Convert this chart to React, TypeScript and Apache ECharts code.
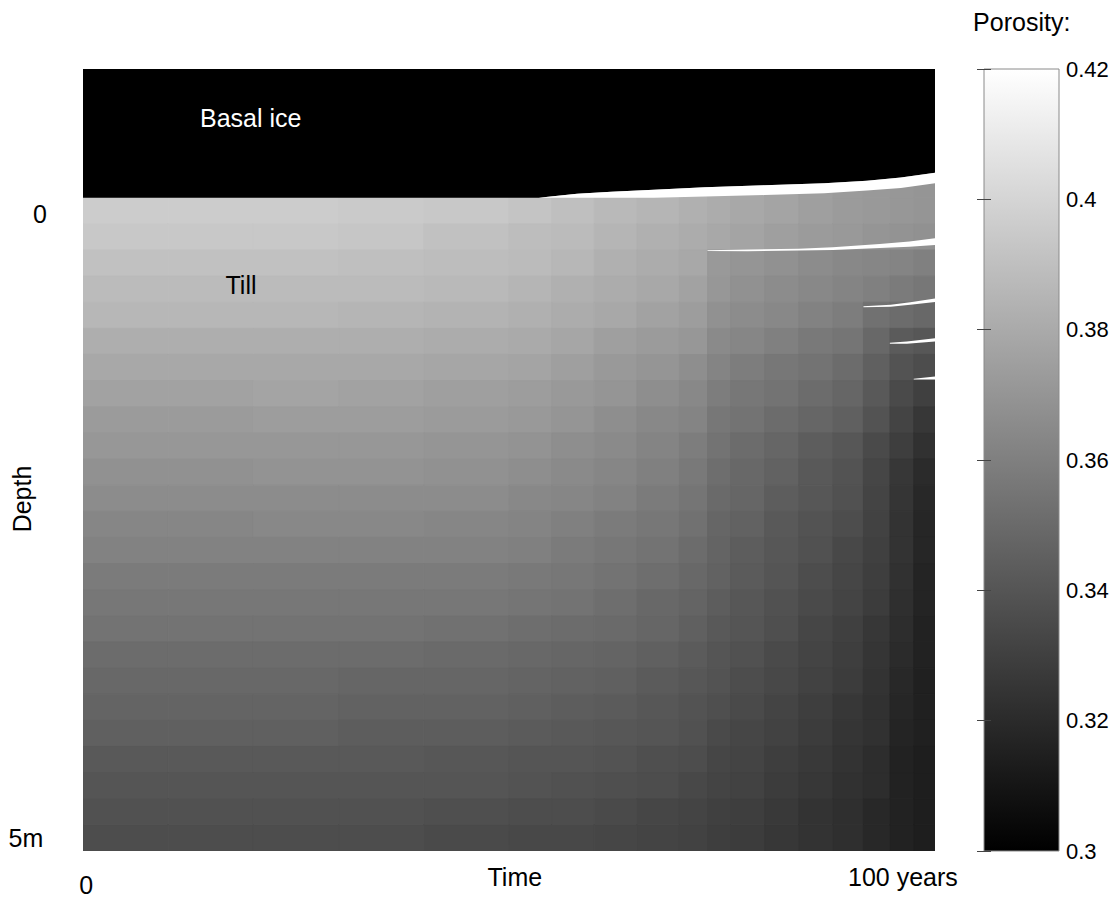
import React, { useEffect, useRef } from "react";
import * as echarts from "echarts";

// ---- axis ranges ----
const timeRange = [0, 100]; // years
const depthRange = [-0.985, 5]; // m (negative = basal ice above till surface)
const colorbarRange = [0.3, 0.42];
const colorbarStep = 0.02;

// ---- porosity field: cell edges (time, depth) and values ----
const timeEdges = [0, 10, 20, 30, 40, 50, 55, 60, 65, 70, 73.3, 76, 80, 84, 88, 91.6, 94.7, 97.5, 100];
const depthEdges = [
  -0.2, 0, 0.2, 0.4, 0.6, 0.8, 1.0, 1.2, 1.4, 1.6, 1.8, 2.0, 2.2, 2.4, 2.6, 2.8, 3.0, 3.2, 3.4,
  3.6, 3.8, 4.0, 4.2, 4.4, 4.6, 4.8, 5.0,
];
const porosity = [
  [0.396, 0.396, 0.396, 0.395, 0.394, 0.392, 0.39, 0.387, 0.385, 0.383, 0.381, 0.379, 0.377, 0.375, 0.373, 0.372, 0.371, 0.37],
  [0.396, 0.396, 0.396, 0.395, 0.394, 0.392, 0.39, 0.387, 0.385, 0.383, 0.381, 0.379, 0.377, 0.375, 0.373, 0.372, 0.371, 0.37],
  [0.394, 0.394, 0.394, 0.393, 0.391, 0.389, 0.388, 0.385, 0.383, 0.381, 0.379, 0.377, 0.375, 0.373, 0.372, 0.37, 0.369, 0.368],
  [0.391, 0.391, 0.391, 0.39, 0.389, 0.388, 0.386, 0.383, 0.381, 0.379, 0.372, 0.37, 0.368, 0.366, 0.364, 0.363, 0.362, 0.36],
  [0.388, 0.388, 0.388, 0.388, 0.387, 0.385, 0.383, 0.381, 0.379, 0.376, 0.371, 0.368, 0.366, 0.364, 0.362, 0.36, 0.358, 0.356],
  [0.386, 0.386, 0.386, 0.385, 0.384, 0.383, 0.381, 0.379, 0.376, 0.374, 0.368, 0.366, 0.364, 0.361, 0.359, 0.353, 0.351, 0.349],
  [0.382, 0.382, 0.382, 0.382, 0.381, 0.38, 0.378, 0.375, 0.373, 0.371, 0.365, 0.363, 0.36, 0.357, 0.355, 0.349, 0.343, 0.341],
  [0.379, 0.379, 0.379, 0.379, 0.378, 0.377, 0.375, 0.372, 0.37, 0.367, 0.362, 0.359, 0.356, 0.354, 0.351, 0.345, 0.339, 0.336],
  [0.376, 0.376, 0.377, 0.376, 0.375, 0.374, 0.372, 0.37, 0.367, 0.364, 0.359, 0.356, 0.354, 0.351, 0.348, 0.342, 0.335, 0.33],
  [0.373, 0.373, 0.374, 0.374, 0.373, 0.372, 0.37, 0.367, 0.364, 0.362, 0.356, 0.354, 0.351, 0.348, 0.345, 0.339, 0.332, 0.326],
  [0.371, 0.371, 0.371, 0.371, 0.37, 0.369, 0.367, 0.365, 0.362, 0.359, 0.354, 0.351, 0.348, 0.344, 0.341, 0.335, 0.329, 0.323],
  [0.368, 0.368, 0.369, 0.369, 0.368, 0.367, 0.365, 0.363, 0.36, 0.357, 0.352, 0.349, 0.346, 0.342, 0.339, 0.333, 0.326, 0.32],
  [0.366, 0.366, 0.366, 0.366, 0.366, 0.364, 0.363, 0.361, 0.358, 0.355, 0.35, 0.348, 0.344, 0.341, 0.338, 0.332, 0.325, 0.319],
  [0.363, 0.363, 0.364, 0.364, 0.363, 0.362, 0.36, 0.358, 0.356, 0.353, 0.348, 0.346, 0.342, 0.339, 0.336, 0.331, 0.324, 0.318],
  [0.361, 0.361, 0.361, 0.361, 0.361, 0.36, 0.358, 0.356, 0.354, 0.351, 0.347, 0.344, 0.341, 0.338, 0.334, 0.33, 0.324, 0.318],
  [0.358, 0.358, 0.358, 0.358, 0.358, 0.357, 0.356, 0.354, 0.352, 0.349, 0.346, 0.343, 0.34, 0.336, 0.333, 0.329, 0.323, 0.317],
  [0.356, 0.356, 0.356, 0.356, 0.356, 0.355, 0.354, 0.352, 0.349, 0.347, 0.344, 0.341, 0.338, 0.335, 0.332, 0.328, 0.322, 0.317],
  [0.354, 0.354, 0.354, 0.354, 0.353, 0.352, 0.351, 0.35, 0.348, 0.345, 0.342, 0.34, 0.337, 0.333, 0.33, 0.326, 0.321, 0.316],
  [0.351, 0.351, 0.351, 0.351, 0.35, 0.349, 0.348, 0.347, 0.345, 0.343, 0.34, 0.338, 0.335, 0.332, 0.329, 0.325, 0.32, 0.316],
  [0.349, 0.349, 0.349, 0.348, 0.348, 0.347, 0.346, 0.345, 0.343, 0.341, 0.339, 0.336, 0.334, 0.331, 0.328, 0.324, 0.319, 0.315],
  [0.347, 0.347, 0.347, 0.346, 0.346, 0.345, 0.344, 0.343, 0.341, 0.339, 0.337, 0.335, 0.332, 0.329, 0.326, 0.323, 0.318, 0.315],
  [0.345, 0.345, 0.345, 0.344, 0.344, 0.343, 0.342, 0.341, 0.34, 0.338, 0.335, 0.333, 0.331, 0.328, 0.325, 0.323, 0.317, 0.315],
  [0.342, 0.342, 0.342, 0.342, 0.341, 0.34, 0.34, 0.339, 0.337, 0.336, 0.333, 0.332, 0.329, 0.327, 0.324, 0.321, 0.316, 0.314],
  [0.34, 0.34, 0.34, 0.34, 0.34, 0.339, 0.338, 0.337, 0.336, 0.334, 0.332, 0.331, 0.328, 0.326, 0.323, 0.321, 0.316, 0.314],
  [0.338, 0.338, 0.338, 0.338, 0.337, 0.336, 0.336, 0.335, 0.333, 0.332, 0.33, 0.329, 0.327, 0.324, 0.322, 0.319, 0.316, 0.314],
  [0.336, 0.336, 0.336, 0.336, 0.335, 0.334, 0.334, 0.333, 0.332, 0.331, 0.329, 0.328, 0.326, 0.324, 0.322, 0.319, 0.316, 0.314],
];

// ---- basal ice base and till surface (heave) ----
const iceTime = [0, 53.5, 58, 62, 67, 73, 80, 87, 92, 96, 100];
const iceBase = [0, 0, -0.03, -0.045, -0.06, -0.08, -0.095, -0.11, -0.13, -0.155, -0.19];
const tillTop = [0, 0, 0, 0, 0, -0.01, -0.02, -0.035, -0.055, -0.075, -0.11];

// ---- ice lenses inside the till ----
const lens2Time = [73.3, 78, 84, 88, 93.5, 97, 100];
const lens2Top = [0.402, 0.396, 0.39, 0.38, 0.355, 0.335, 0.31];
const lens2Bottom = [0.408, 0.41, 0.405, 0.4, 0.385, 0.375, 0.362];
const lens3Time = [91.6, 94.8, 97.1, 100];
const lens3Top = [0.83, 0.82, 0.8, 0.772];
const lens3Bottom = [0.838, 0.835, 0.82, 0.798];
const lens4Time = [94.7, 96.7, 100];
const lens4Top = [1.11, 1.1, 1.075];
const lens4Bottom = [1.118, 1.118, 1.1];
const lens5Time = [97.5, 100];
const lens5Top = [1.385, 1.368];
const lens5Bottom = [1.392, 1.392];

const FONT = '"Liberation Sans", Arial, Helvetica, sans-serif';

export default function App() {
  const ref = useRef<HTMLDivElement>(null);

  useEffect(() => {
    document.body.style.margin = "0";
    if (!ref.current) return;
    const chart = echarts.init(ref.current, undefined, { renderer: "svg" });

    const heatData: number[][] = [];
    for (let j = 0; j < depthEdges.length - 1; j++) {
      for (let i = 0; i < timeEdges.length - 1; i++) {
        heatData.push([
          (timeEdges[i] + timeEdges[i + 1]) / 2,
          (depthEdges[j] + depthEdges[j + 1]) / 2,
          porosity[j][i],
          i,
          j,
        ]);
      }
    }

    const lenses = [
      { time: iceTime.slice(1), top: iceBase.slice(1), bottom: tillTop.slice(1) },
      { time: lens2Time, top: lens2Top, bottom: lens2Bottom },
      { time: lens3Time, top: lens3Top, bottom: lens3Bottom },
      { time: lens4Time, top: lens4Top, bottom: lens4Bottom },
      { time: lens5Time, top: lens5Top, bottom: lens5Bottom },
    ];

    const txt = (text: string, x: number, y: number, extra: any = {}) => ({
      type: "text",
      x,
      y,
      z: 100,
      rotation: extra.rotation || 0,
      style: {
        text,
        fill: extra.fill || "#000",
        fontSize: extra.fontSize || 25,
        fontFamily: FONT,
        align: extra.align || "left",
        verticalAlign: "middle",
      },
    });

    const option: any = {
      animation: false,
      backgroundColor: "#ffffff",
      grid: [
        { left: 83, top: 69, width: 852, height: 782, show: false },
        { left: 984, top: 69, width: 75, height: 782, show: false },
      ],
      xAxis: [
        { type: "value", gridIndex: 0, min: timeRange[0], max: timeRange[1], show: false },
        { type: "value", gridIndex: 1, min: 0, max: 1, show: false },
      ],
      yAxis: [
        { type: "value", gridIndex: 0, min: depthRange[0], max: depthRange[1], inverse: true, show: false },
        {
          type: "value",
          gridIndex: 1,
          position: "right",
          min: colorbarRange[0],
          max: colorbarRange[1],
          interval: colorbarStep,
          z: 10,
          axisLine: { show: false },
          axisTick: { show: true, inside: true, length: 7, lineStyle: { color: "#444", width: 1 } },
          axisLabel: { show: true, margin: 7, fontSize: 22, fontFamily: FONT, color: "#000" },
          splitLine: { show: false },
        },
        {
          type: "value",
          gridIndex: 1,
          position: "left",
          min: colorbarRange[0],
          max: colorbarRange[1],
          interval: colorbarStep,
          z: 10,
          axisLine: { show: false },
          axisTick: { show: true, inside: true, length: 7, lineStyle: { color: "#444", width: 1 } },
          axisLabel: { show: false },
          splitLine: { show: false },
        },
      ],
      visualMap: {
        type: "continuous",
        show: false,
        min: colorbarRange[0],
        max: colorbarRange[1],
        dimension: 2,
        seriesIndex: 0,
        inRange: { color: ["#000000", "#ffffff"] },
      },
      series: [
        {
          type: "custom",
          name: "Porosity",
          xAxisIndex: 0,
          yAxisIndex: 0,
          clip: true,
          z: 2,
          dimensions: ["t", "d", "p", "i", "j"],
          encode: { x: 0, y: 1 },
          data: heatData,
          renderItem: (params: any, api: any) => {
            const i = api.value(3);
            const j = api.value(4);
            const a = api.coord([timeEdges[i], depthEdges[j]]);
            const b = api.coord([timeEdges[i + 1], depthEdges[j + 1]]);
            const color = api.visual("color");
            return {
              type: "rect",
              shape: {
                x: Math.min(a[0], b[0]),
                y: Math.min(a[1], b[1]),
                width: Math.abs(b[0] - a[0]),
                height: Math.abs(b[1] - a[1]),
              },
              style: { fill: color, stroke: color, lineWidth: 1 },
            };
          },
        },
        {
          type: "custom",
          name: "Basal ice",
          xAxisIndex: 0,
          yAxisIndex: 0,
          clip: true,
          z: 3,
          data: [[iceTime[0], iceBase[0]]],
          renderItem: (params: any, api: any) => {
            const pts: number[][] = [api.coord([timeRange[0], depthRange[0]])];
            for (let k = 0; k < iceTime.length; k++) pts.push(api.coord([iceTime[k], iceBase[k]]));
            pts.push(api.coord([timeRange[1], depthRange[0]]));
            return { type: "polygon", shape: { points: pts }, style: { fill: "#000" } };
          },
        },
        {
          type: "custom",
          name: "Ice lenses",
          xAxisIndex: 0,
          yAxisIndex: 0,
          clip: true,
          z: 4,
          data: lenses.map((l, k) => [l.time[0], l.top[0], k]),
          renderItem: (params: any, api: any) => {
            const l = lenses[api.value(2)];
            const pts: number[][] = [];
            for (let k = 0; k < l.time.length; k++) pts.push(api.coord([l.time[k], l.top[k]]));
            for (let k = l.time.length - 1; k >= 0; k--) pts.push(api.coord([l.time[k], l.bottom[k]]));
            return { type: "polygon", shape: { points: pts }, style: { fill: "#fff" } };
          },
        },
        {
          type: "custom",
          name: "Colorbar",
          xAxisIndex: 1,
          yAxisIndex: 1,
          z: 2,
          data: [[0, colorbarRange[0]]],
          renderItem: (params: any, api: any) => {
            const a = api.coord([0, colorbarRange[1]]);
            const b = api.coord([1, colorbarRange[0]]);
            return {
              type: "rect",
              shape: { x: a[0], y: a[1], width: b[0] - a[0], height: b[1] - a[1] },
              style: {
                fill: new echarts.graphic.LinearGradient(0, 0, 0, 1, [
                  { offset: 0, color: "#ffffff" },
                  { offset: 1, color: "#000000" },
                ]),
                stroke: "#8a8a8a",
                lineWidth: 1,
              },
            };
          },
        },
      ],
      graphic: [
        txt("Basal ice", 200, 118.3, { fill: "#fff" }),
        txt("Till", 225.5, 284.5),
        txt("0", 40, 214, { align: "center" }),
        txt("5m", 8.5, 837.5),
        txt("Depth", 22, 499, { align: "center", rotation: Math.PI / 2 }),
        txt("0", 86.3, 884.6, { align: "center" }),
        txt("Time", 487.5, 877),
        txt("100 years", 848, 877),
        txt("Porosity:", 1021.7, 21.7, { align: "center" }),
      ],
    };

    chart.setOption(option);
    return () => chart.dispose();
  }, []);

  return <div ref={ref} style={{ width: 1120, height: 901 }} />;
}
